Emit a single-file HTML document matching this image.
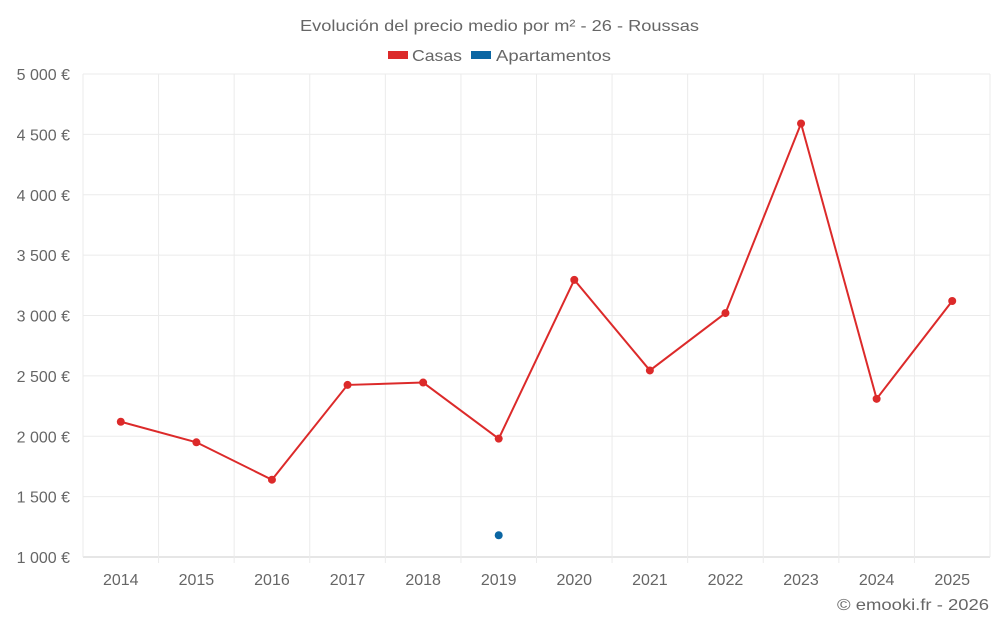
<!DOCTYPE html>
<html><head><meta charset="utf-8"><style>
body{margin:0;background:#fff;font-family:"Liberation Sans",sans-serif;}
svg text{font-family:"Liberation Sans",sans-serif;fill:#666;}
</style></head><body>
<svg id="chart" width="1000" height="625">
<text x="300" y="31" textLength="399" lengthAdjust="spacingAndGlyphs" font-size="16">Evolución del precio medio por m² - 26 - Roussas</text>
<g>
<rect x="388" y="51" width="20" height="8" fill="#dc2a2a"/>
<text x="412" y="61" textLength="50" lengthAdjust="spacingAndGlyphs" font-size="16">Casas</text>
<rect x="471" y="51" width="20" height="8" fill="#0b66a3"/>
<text x="496" y="61" textLength="115" lengthAdjust="spacingAndGlyphs" font-size="16">Apartamentos</text>
</g>
<g id="grid"></g><g id="marks"></g>
<text x="837" y="610" textLength="152" lengthAdjust="spacingAndGlyphs" font-size="16">© emooki.fr - 2026</text>
</svg>
<script>
const years=["2014","2015","2016","2017","2018","2019","2020","2021","2022","2023","2024","2025"];
const casas=[2120,1950,1640,2425,2445,1980,3295,2545,3020,4590,2310,3120];
const apartamentos=[null,null,null,null,null,1180,null,null,null,null,null,null];
const yTicks=[1000,1500,2000,2500,3000,3500,4000,4500,5000];
const yTickLabels=["1 000 €","1 500 €","2 000 €","2 500 €","3 000 €","3 500 €","4 000 €","4 500 €","5 000 €"];
const ns="http://www.w3.org/2000/svg";
const L=83,R=990,T=74,B=557,yMin=1000,yMax=5000;
const bw=(R-L)/years.length;
const xS=i=>L+bw*(i+0.5);
const yS=v=>B-(v-yMin)/(yMax-yMin)*(B-T);
function mk(tag,attrs,parent){const e=document.createElementNS(ns,tag);for(const k in attrs)e.setAttribute(k,attrs[k]);parent.appendChild(e);return e;}
const g=document.getElementById('grid'),m=document.getElementById('marks');
yTicks.forEach((v,i)=>{
 const ln=mk('line',{x1:L,x2:R,y1:yS(v),y2:yS(v),stroke:i==0?'#ccc':'#ebebeb'},g);
 
 
 const t=mk('text',{x:70,y:yS(v)+6,'text-anchor':'end','font-size':'16'},g);
 t.textContent=yTickLabels[i];
 
 
});
for(let i=0;i<=years.length;i++){
 const x=L+bw*i;
 const ln=mk('line',{x1:x,x2:x,y1:T,y2:B+(i==0||i==years.length?0:6),stroke:'#ebebeb'},g);
 
 
}
years.forEach((y,i)=>{
 const t=mk('text',{x:xS(i),y:585,'text-anchor':'middle','font-size':'16'},g);
 t.textContent=y;
 
 
});
const pts=casas.map((v,i)=>v==null?null:[xS(i),yS(v)]).filter(p=>p);
const pl=mk('polyline',{points:pts.map(p=>p.join(',')).join(' '),fill:'none',stroke:'#dc2a2a','stroke-width':2},m);


casas.forEach((v,i)=>{if(v==null)return;
 const c=mk('circle',{cx:xS(i),cy:yS(v),r:4,fill:'#dc2a2a'},m);
 
 
});
apartamentos.forEach((v,i)=>{if(v==null)return;
 const c=mk('circle',{cx:xS(i),cy:yS(v),r:4,fill:'#0b66a3'},m);
 
 
});
</script>
</body></html>
